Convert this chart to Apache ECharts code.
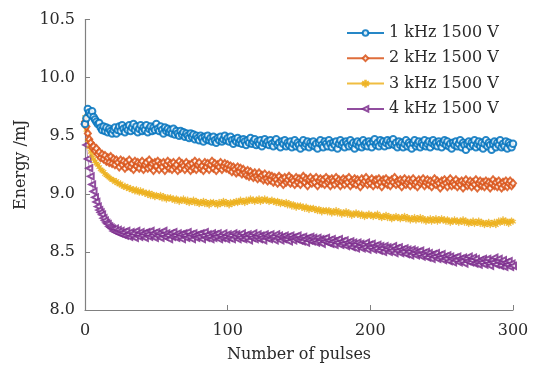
<!DOCTYPE html>
<html>
<head>
<meta charset="utf-8">
<script src="https://cdn.jsdelivr.net/npm/echarts@6/dist/echarts.min.js"></script>
<style>html,body{margin:0;padding:0;background:#fff;}#c{width:533px;height:368px;}</style>
</head>
<body>
<div id="c"></div>
<script>
var seriesNames = ['1 kHz 1500 V', '2 kHz 1500 V', '3 kHz 1500 V', '4 kHz 1500 V'];
var pulseStep = 1; // one sample per pulse, 0 ... 300
var xTicks = [0, 100, 200, 300];
var yTicks = [8.0, 8.5, 9.0, 9.5, 10.0, 10.5];

var e1kHz = [
9.60,9.65,9.73,9.70,9.68,9.71,9.66,9.64,9.62,9.60,
9.61,9.57,9.55,9.58,9.54,9.57,9.53,9.56,9.54,9.52,
9.55,9.57,9.52,9.55,9.58,9.54,9.59,9.56,9.53,9.57,
9.55,9.59,9.54,9.57,9.60,9.55,9.58,9.53,9.56,9.59,
9.54,9.57,9.55,9.59,9.53,9.56,9.58,9.54,9.57,9.55,
9.60,9.56,9.54,9.58,9.55,9.52,9.57,9.54,9.56,9.53,
9.55,9.52,9.56,9.51,9.54,9.52,9.50,9.54,9.51,9.53,
9.49,9.52,9.50,9.48,9.52,9.49,9.51,9.47,9.50,9.48,
9.46,9.50,9.48,9.45,9.49,9.47,9.50,9.46,9.48,9.45,
9.49,9.46,9.44,9.48,9.46,9.49,9.45,9.47,9.50,9.46,
9.48,9.45,9.49,9.46,9.43,9.47,9.45,9.48,9.44,9.46,
9.43,9.47,9.45,9.42,9.46,9.44,9.48,9.43,9.45,9.47,
9.42,9.45,9.43,9.46,9.41,9.44,9.47,9.43,9.45,9.42,
9.46,9.43,9.41,9.45,9.47,9.42,9.44,9.40,9.45,9.43,
9.46,9.41,9.44,9.42,9.45,9.40,9.43,9.46,9.41,9.44,
9.42,9.39,9.44,9.46,9.41,9.43,9.45,9.40,9.44,9.42,
9.45,9.41,9.43,9.39,9.44,9.46,9.42,9.40,9.45,9.43,
9.41,9.46,9.43,9.40,9.44,9.42,9.45,9.39,9.43,9.46,
9.42,9.44,9.40,9.45,9.43,9.41,9.46,9.42,9.44,9.39,
9.43,9.45,9.41,9.44,9.40,9.46,9.42,9.44,9.41,9.45,
9.43,9.40,9.45,9.47,9.42,9.44,9.41,9.46,9.43,9.45,
9.41,9.44,9.46,9.42,9.45,9.43,9.47,9.42,9.44,9.40,
9.45,9.42,9.44,9.40,9.43,9.46,9.41,9.44,9.42,9.39,
9.44,9.46,9.41,9.43,9.45,9.40,9.44,9.42,9.46,9.41,
9.43,9.45,9.40,9.44,9.46,9.42,9.44,9.41,9.45,9.43,
9.40,9.44,9.46,9.42,9.45,9.41,9.43,9.39,9.44,9.42,
9.45,9.41,9.43,9.46,9.40,9.44,9.42,9.38,9.43,9.45,
9.41,9.44,9.42,9.46,9.40,9.43,9.45,9.41,9.44,9.39,
9.43,9.46,9.41,9.44,9.42,9.38,9.43,9.45,9.40,9.44,
9.42,9.46,9.40,9.43,9.41,9.45,9.39,9.44,9.42,9.40,
9.43];

var e2kHz = [
9.62,9.58,9.52,9.47,9.44,9.40,9.41,9.37,9.39,9.34,
9.36,9.31,9.34,9.30,9.33,9.28,9.31,9.27,9.32,9.26,
9.30,9.25,9.29,9.27,9.23,9.29,9.25,9.28,9.22,9.27,
9.24,9.29,9.23,9.26,9.21,9.28,9.24,9.27,9.22,9.26,
9.28,9.21,9.25,9.27,9.22,9.29,9.23,9.26,9.20,9.27,
9.24,9.28,9.21,9.26,9.23,9.27,9.20,9.25,9.28,9.22,
9.26,9.21,9.27,9.23,9.25,9.20,9.28,9.22,9.26,9.24,
9.21,9.27,9.23,9.25,9.20,9.26,9.22,9.28,9.21,9.25,
9.27,9.22,9.24,9.20,9.27,9.23,9.26,9.21,9.25,9.28,
9.22,9.26,9.20,9.25,9.23,9.27,9.21,9.24,9.26,9.22,
9.25,9.21,9.24,9.19,9.23,9.21,9.18,9.23,9.19,9.22,
9.17,9.21,9.18,9.16,9.20,9.15,9.19,9.16,9.14,9.18,
9.15,9.13,9.18,9.14,9.16,9.12,9.17,9.13,9.11,9.16,
9.12,9.15,9.10,9.14,9.12,9.09,9.15,9.11,9.13,9.08,
9.14,9.10,9.12,9.15,9.09,9.13,9.11,9.08,9.14,9.10,
9.13,9.08,9.12,9.15,9.10,9.13,9.07,9.12,9.14,9.09,
9.12,9.10,9.14,9.07,9.11,9.13,9.09,9.12,9.08,9.14,
9.10,9.12,9.07,9.13,9.11,9.08,9.14,9.10,9.12,9.07,
9.11,9.13,9.08,9.12,9.10,9.14,9.07,9.11,9.09,9.13,
9.08,9.12,9.10,9.06,9.13,9.09,9.11,9.14,9.08,9.11,
9.09,9.13,9.07,9.11,9.12,9.08,9.13,9.10,9.06,9.12,
9.10,9.13,9.08,9.11,9.07,9.12,9.10,9.14,9.08,9.11,
9.09,9.12,9.06,9.11,9.13,9.08,9.10,9.12,9.07,9.11,
9.13,9.08,9.10,9.06,9.12,9.09,9.11,9.13,9.07,9.10,
9.12,9.08,9.11,9.06,9.10,9.13,9.08,9.11,9.09,9.05,
9.11,9.08,9.12,9.09,9.06,9.11,9.13,9.07,9.10,9.08,
9.12,9.06,9.10,9.08,9.11,9.05,9.10,9.12,9.07,9.09,
9.11,9.06,9.10,9.08,9.12,9.05,9.09,9.11,9.07,9.10,
9.06,9.11,9.08,9.10,9.05,9.09,9.12,9.07,9.10,9.06,
9.11,9.08,9.05,9.10,9.07,9.11,9.06,9.09,9.11,9.07,
9.09];

var e3kHz = [
9.66,9.55,9.46,9.40,9.36,9.33,9.30,9.28,9.26,9.25,
9.23,9.21,9.20,9.19,9.17,9.16,9.15,9.14,9.13,9.12,
9.12,9.10,9.11,9.09,9.08,9.09,9.07,9.06,9.07,9.05,
9.06,9.04,9.05,9.03,9.04,9.02,9.04,9.02,9.01,9.03,
9.01,9.02,9.00,9.01,8.99,9.01,8.98,9.00,8.99,8.97,
8.99,8.98,8.97,8.99,8.96,8.98,8.97,8.95,8.97,8.96,
8.97,8.95,8.96,8.94,8.96,8.95,8.93,8.95,8.94,8.96,
8.94,8.93,8.95,8.92,8.94,8.93,8.95,8.92,8.94,8.93,
8.91,8.93,8.92,8.94,8.91,8.93,8.92,8.90,8.93,8.92,
8.93,8.91,8.92,8.90,8.93,8.91,8.92,8.94,8.91,8.93,
8.92,8.90,8.93,8.91,8.93,8.92,8.94,8.92,8.93,8.95,
8.93,8.94,8.92,8.95,8.93,8.94,8.96,8.94,8.95,8.93,
8.95,8.94,8.96,8.93,8.95,8.94,8.96,8.94,8.95,8.93,
8.94,8.95,8.93,8.94,8.92,8.94,8.93,8.91,8.93,8.92,
8.91,8.93,8.90,8.92,8.91,8.89,8.91,8.90,8.88,8.90,
8.89,8.90,8.88,8.89,8.87,8.89,8.88,8.86,8.88,8.87,
8.88,8.86,8.87,8.85,8.87,8.86,8.84,8.86,8.85,8.86,
8.84,8.86,8.85,8.83,8.85,8.84,8.86,8.83,8.85,8.84,
8.82,8.84,8.83,8.85,8.82,8.84,8.83,8.81,8.83,8.82,
8.84,8.82,8.83,8.81,8.83,8.82,8.80,8.82,8.81,8.83,
8.81,8.82,8.80,8.82,8.81,8.83,8.80,8.81,8.79,8.81,
8.80,8.82,8.79,8.81,8.80,8.78,8.80,8.79,8.81,8.79,
8.80,8.78,8.80,8.79,8.81,8.78,8.80,8.79,8.77,8.79,
8.78,8.80,8.77,8.79,8.78,8.80,8.77,8.79,8.78,8.76,
8.78,8.77,8.79,8.76,8.78,8.77,8.79,8.76,8.78,8.77,
8.79,8.77,8.78,8.76,8.78,8.77,8.75,8.77,8.76,8.78,
8.76,8.77,8.75,8.77,8.76,8.78,8.75,8.77,8.76,8.74,
8.76,8.75,8.77,8.74,8.76,8.75,8.77,8.74,8.76,8.75,
8.73,8.75,8.74,8.76,8.73,8.75,8.74,8.76,8.73,8.75,
8.77,8.75,8.76,8.78,8.75,8.77,8.76,8.74,8.76,8.77,
8.76];

var e4kHz = [
9.60,9.42,9.30,9.22,9.15,9.08,9.02,8.97,8.93,8.89,
8.86,8.84,8.82,8.79,8.77,8.75,8.74,8.72,8.71,8.70,
8.68,8.70,8.67,8.69,8.66,8.68,8.65,8.67,8.64,8.68,
8.65,8.63,8.67,8.64,8.66,8.62,8.68,8.65,8.63,8.67,
8.64,8.66,8.62,8.67,8.65,8.63,8.68,8.64,8.66,8.62,
8.67,8.64,8.66,8.62,8.65,8.68,8.63,8.66,8.64,8.61,
8.66,8.63,8.67,8.64,8.62,8.66,8.63,8.65,8.61,8.66,
8.64,8.62,8.67,8.63,8.65,8.61,8.66,8.64,8.62,8.65,
8.63,8.66,8.61,8.64,8.67,8.62,8.65,8.63,8.61,8.66,
8.62,8.65,8.63,8.66,8.61,8.64,8.62,8.66,8.63,8.61,
8.65,8.62,8.64,8.61,8.66,8.63,8.65,8.61,8.64,8.62,
8.66,8.61,8.64,8.62,8.65,8.60,8.64,8.62,8.66,8.61,
8.63,8.65,8.61,8.64,8.62,8.60,8.65,8.62,8.64,8.61,
8.65,8.62,8.63,8.60,8.65,8.62,8.64,8.60,8.63,8.61,
8.64,8.61,8.63,8.59,8.64,8.62,8.60,8.63,8.61,8.64,
8.60,8.62,8.59,8.63,8.61,8.58,8.62,8.60,8.63,8.59,
8.62,8.60,8.58,8.62,8.59,8.61,8.57,8.61,8.59,8.62,
8.58,8.60,8.57,8.61,8.59,8.56,8.60,8.58,8.61,8.56,
8.59,8.57,8.60,8.55,8.58,8.56,8.59,8.54,8.58,8.56,
8.53,8.58,8.55,8.57,8.53,8.56,8.54,8.58,8.52,8.56,
8.54,8.57,8.52,8.55,8.53,8.56,8.51,8.55,8.53,8.50,
8.55,8.52,8.54,8.50,8.53,8.51,8.55,8.49,8.53,8.51,
8.54,8.49,8.52,8.50,8.53,8.48,8.52,8.50,8.47,8.52,
8.49,8.51,8.47,8.50,8.48,8.51,8.46,8.49,8.47,8.50,
8.45,8.49,8.47,8.44,8.48,8.46,8.49,8.44,8.47,8.45,
8.48,8.43,8.46,8.44,8.47,8.42,8.46,8.44,8.41,8.45,
8.43,8.46,8.41,8.44,8.42,8.45,8.40,8.44,8.42,8.46,
8.41,8.43,8.45,8.40,8.44,8.41,8.39,8.43,8.41,8.44,
8.39,8.42,8.44,8.40,8.38,8.43,8.41,8.45,8.39,8.42,
8.44,8.38,8.41,8.43,8.37,8.41,8.39,8.42,8.37,8.40,
8.38];

var allSeries = [e1kHz, e2kHz, e3kHz, e4kHz];
var colors = ['#0072BD', '#D95319', '#EDB120', '#7E2F8E'];
var asterisk = 'path://M9,0 L11,0 L11,7.3 L17.3,3.6 L18.3,5.4 L12,9 L18.3,12.6 L17.3,14.4 L11,10.7 L11,18 L9,18 L9,10.7 L2.7,14.4 L1.7,12.6 L8,9 L1.7,5.4 L2.7,3.6 L9,7.3 Z';
var symbols = ['emptyCircle', 'emptyDiamond', asterisk, 'emptyTriangle'];
var symbolSizes = [6.5, [6, 7], 5.5, 6];
var symbolRotates = [0, 0, 0, 90];

function pairs(arr) {
  return arr.map(function (v, i) { return [i * pulseStep, v]; });
}

var FONT = 'DejaVu Serif';
var TXT = '#2a2a2a';

var series = allSeries.map(function (arr, k) {
  return {
    name: seriesNames[k],
    type: 'line',
    data: pairs(arr),
    symbol: symbols[k],
    symbolSize: symbolSizes[k],
    symbolRotate: symbolRotates[k],
    showSymbol: true,
    showAllSymbol: true,
    clip: false,
    z: 10 - k,
    lineStyle: { color: colors[k], width: 0.6, opacity: 0.85 },
    itemStyle: { color: colors[k], borderColor: colors[k], borderWidth: 0.6, opacity: 0.85 },
    emphasis: { disabled: true }
  };
});

var chart = echarts.init(document.getElementById('c'), null, { renderer: 'canvas' });
chart.setOption({
  animation: false,
  backgroundColor: '#fff',
  grid: { left: 85, right: 20, top: 19.5, bottom: 57.3, containLabel: false },
  legend: {
    orient: 'vertical',
    left: 346,
    top: 24,
    padding: 0,
    itemWidth: 37,
    itemHeight: 7,
    itemGap: 7.3,
    textStyle: { fontFamily: FONT, fontSize: 16, color: TXT, lineHeight: 18 },
    data: seriesNames
  },
  xAxis: {
    type: 'value',
    min: 0, max: 300, interval: 100,
    name: 'Number of pulses',
    nameLocation: 'middle',
    nameGap: 37,
    nameTextStyle: { fontFamily: FONT, fontSize: 16, color: TXT },
    axisLine: { show: true, lineStyle: { color: '#808080', width: 1.2 } },
    axisTick: { show: true, inside: true, length: 5, lineStyle: { color: '#808080' } },
    axisLabel: { fontFamily: FONT, fontSize: 16, color: TXT, margin: 13,
      formatter: function (v) { return xTicks.indexOf(v) >= 0 ? String(v) : ''; } },
    splitLine: { show: false }
  },
  yAxis: {
    type: 'value',
    min: 8.0, max: 10.5, interval: 0.5,
    name: 'Energy /mJ',
    nameLocation: 'middle',
    nameGap: 52,
    nameTextStyle: { fontFamily: FONT, fontSize: 16, color: TXT },
    axisLine: { show: true, lineStyle: { color: '#808080', width: 1.2 } },
    axisTick: { show: true, inside: true, length: 5, lineStyle: { color: '#808080' } },
    axisLabel: { fontFamily: FONT, fontSize: 16, color: TXT, margin: 10,
      formatter: function (v) { return v.toFixed(1); } },
    splitLine: { show: false }
  },
  series: series
});
</script>
</body>
</html>
